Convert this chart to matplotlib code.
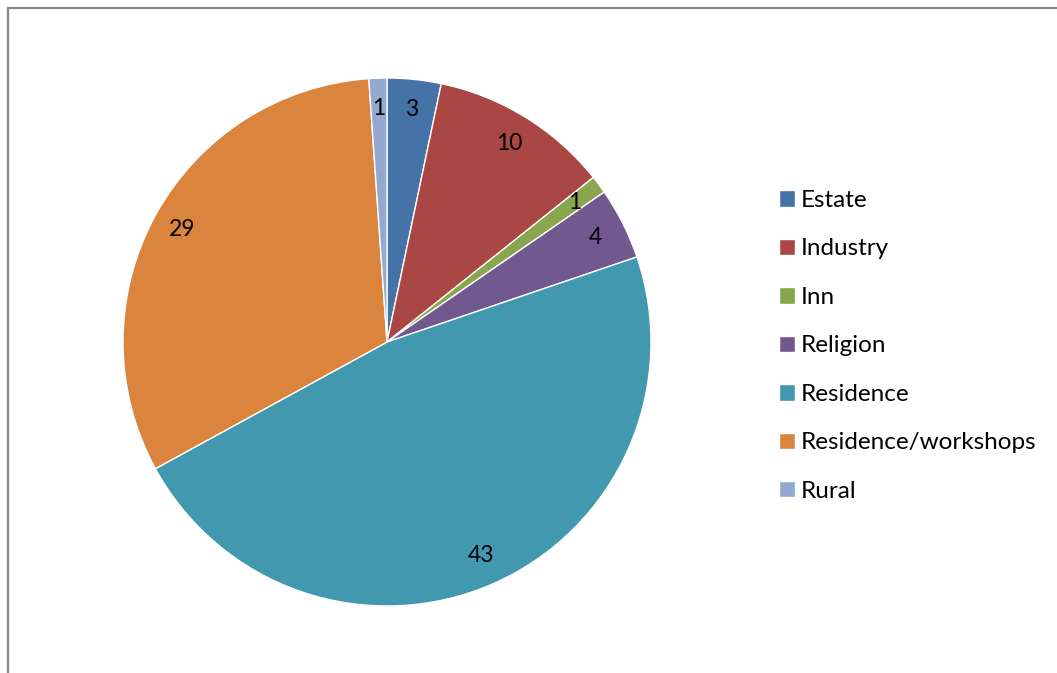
import matplotlib
matplotlib.use("Agg")
import matplotlib.pyplot as plt
from matplotlib.patches import Rectangle

categories = ["Estate", "Industry", "Inn", "Religion", "Residence",
              "Residence/workshops", "Rural"]
counts = [3, 10, 1, 4, 43, 29, 1]
colors = ["#4572A7", "#AA4643", "#89A54E", "#71588F", "#4198AF",
          "#DB843D", "#93A9CF"]

plt.rcParams["font.family"] = ["Lato", "DejaVu Sans"]

W, H = 1057, 673
fig = plt.figure(figsize=(W / 100, H / 100), dpi=100)

# pie centred at (387, 342) px with a 264 px radius
cx, cy, r = 387, 342, 264
ax = fig.add_axes([(cx - r) / W, (H - cy - r) / H, 2 * r / W, 2 * r / H])
wedges, texts = ax.pie(counts, colors=colors, labels=[str(c) for c in counts],
                       startangle=90, counterclock=False, labeldistance=0.885,
                       wedgeprops=dict(edgecolor="white", linewidth=1),
                       textprops=dict(fontsize=16.5, color="black",
                                      ha="center", va="center"))
ax.set_xlim(-1, 1)
ax.set_ylim(-1, 1)
ax.set_aspect("equal")
ax.axis("off")

leg = fig.legend(wedges, categories, loc="upper left",
                 bbox_to_anchor=(779 / W, 1 - 190 / H),
                 frameon=False, fontsize=17.5, handlelength=0.66,
                 handleheight=0.66, handletextpad=0.25, labelspacing=1.13,
                 borderpad=0, borderaxespad=0)

# chart area frame (only top and left edges fall inside the image)
fig.patches.append(Rectangle((7.5 / W, -0.2), 1.5, 0.2 + 1 - 7.5 / H,
                             transform=fig.transFigure, fill=False,
                             edgecolor="#878787", linewidth=1.6))

fig.savefig("out.png", dpi=100)
